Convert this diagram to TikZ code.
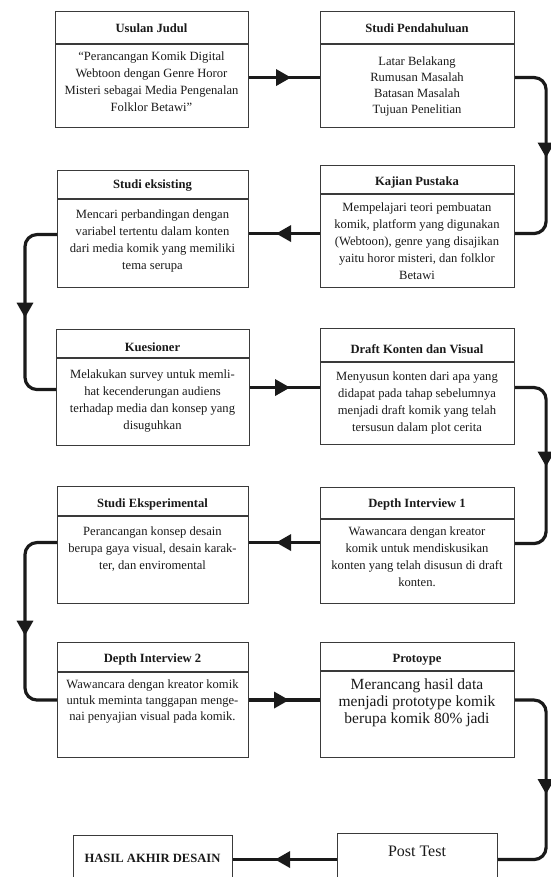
\documentclass[tikz,border=0pt]{standalone}
\usepackage{fontspec}
\setmainfont{Liberation Serif}
\usetikzlibrary{arrows.meta,decorations.markings}
\definecolor{ink}{HTML}{1A1A1A}
\definecolor{framecol}{HTML}{3A3A3A}
\tikzset{
  boxframe/.style={draw=framecol, line width=1.1pt, inner sep=0pt, anchor=north west, fill=white},
  divline/.style={draw=framecol, line width=1.1pt},
  headtxt/.style={font=\fontsize{12.6}{15}\selectfont\bfseries, text=ink, anchor=base, inner sep=0pt},
  bodytxt/.style={font=\fontsize{12.6}{17}\selectfont, text=ink, align=center, anchor=north, inner sep=0pt},
  conn/.style={draw=ink, line width=3.2pt, rounded corners=12pt},
  tipat/.style={postaction={decorate}, decoration={markings, mark=at position #1 with {\arrow{Triangle[length=15pt,width=16pt]}}}},
}
\begin{document}
\begin{tikzpicture}[x=1pt,y=-1pt]
\useasboundingbox (0,0) rectangle (550,877);

% Usulan Judul
\node[boxframe, minimum width=193pt, minimum height=116pt] (usulan) at (55,11) {};
\draw[divline] (55,44) -- (248,44);
\node[headtxt] (usulanH) at (151.5,33) {Usulan Judul};
\node[bodytxt] (usulanB) at (151.5,51.5) {“Perancangan Komik Digital\\Webtoon dengan Genre Horor\\Misteri sebagai Media Pengenalan\\Folklor Betawi”};

% Studi Pendahuluan
\node[boxframe, minimum width=194pt, minimum height=116pt] (sp) at (320,11) {};
\draw[divline] (320,44) -- (514,44);
\node[headtxt] (spH) at (417,33) {Studi Pendahuluan};
\node[bodytxt, font=\fontsize{12.6}{16}\selectfont] (spB) at (417,56.5) {Latar Belakang\\Rumusan Masalah\\Batasan Masalah\\Tujuan Penelitian};

% Kajian Pustaka
\node[boxframe, minimum width=194pt, minimum height=122pt] (kajian) at (320,165) {};
\draw[divline] (320,194) -- (514,194);
\node[headtxt] (kajianH) at (417,186) {Kajian Pustaka};
\node[bodytxt] (kajianB) at (417,202.5) {Mempelajari teori pembuatan\\komik, platform yang digunakan\\(Webtoon), genre yang disajikan\\yaitu horor misteri, dan folklor\\Betawi};

% Studi eksisting
\node[boxframe, minimum width=191pt, minimum height=117pt] (se) at (57,170) {};
\draw[divline] (57,199) -- (248,199);
\node[headtxt] (seH) at (152.5,189) {Studi eksisting};
\node[bodytxt] (seB) at (152.5,209.5) {Mencari perbandingan dengan\\variabel tertentu dalam konten\\dari media komik yang memiliki\\tema serupa};

% Kuesioner
\node[boxframe, minimum width=193pt, minimum height=116pt] (kues) at (56,329) {};
\draw[divline] (56,358) -- (249,358);
\node[headtxt] (kuesH) at (152.5,351) {Kuesioner};
\node[bodytxt] (kuesB) at (152.5,369.5) {Melakukan survey untuk memli-\\hat kecenderungan audiens\\terhadap media dan konsep yang\\disuguhkan};

% Draft Konten dan Visual
\node[boxframe, minimum width=194pt, minimum height=116pt] (draft) at (320,328) {};
\draw[divline] (320,362) -- (514,362);
\node[headtxt] (draftH) at (417,353) {Draft Konten dan Visual};
\node[bodytxt] (draftB) at (417,371.5) {Menyusun konten dari apa yang\\didapat pada tahap sebelumnya\\menjadi draft komik yang telah\\tersusun dalam plot cerita};

% Studi Eksperimental
\node[boxframe, minimum width=191pt, minimum height=117pt] (seexp) at (57,486) {};
\draw[divline] (57,516) -- (248,516);
\node[headtxt] (seexpH) at (152.5,507) {Studi Eksperimental};
\node[bodytxt] (seexpB) at (152.5,526.5) {Perancangan konsep desain\\berupa gaya visual, desain karak-\\ter, dan enviromental};

% Depth Interview 1
\node[boxframe, minimum width=194pt, minimum height=116pt] (di1) at (320,487) {};
\draw[divline] (320,519) -- (514,519);
\node[headtxt] (di1H) at (417,507) {Depth Interview 1};
\node[bodytxt] (di1B) at (417,526.5) {Wawancara dengan kreator\\komik untuk mendiskusikan\\konten yang telah disusun di draft\\konten.};

% Depth Interview 2
\node[boxframe, minimum width=191pt, minimum height=115pt] (di2) at (57,642) {};
\draw[divline] (57,672) -- (248,672);
\node[headtxt] (di2H) at (152.5,662) {Depth Interview 2};
\node[bodytxt, font=\fontsize{12.6}{16}\selectfont] (di2B) at (152.5,679.5) {Wawancara dengan kreator komik\\untuk meminta tanggapan menge-\\nai penyajian visual pada komik.};

% Protoype
\node[boxframe, minimum width=194pt, minimum height=115pt] (proto) at (320,642) {};
\draw[divline] (320,671) -- (514,671);
\node[headtxt] (protoH) at (417,662) {Protoype};
\node[bodytxt, font=\fontsize{15.5}{17}\selectfont] (protoB) at (417,679) {Merancang hasil data\\menjadi prototype komik\\berupa komik 80\% jadi};

% Post Test
\node[boxframe, minimum width=160pt, minimum height=52pt] (post) at (337,833) {};
\node[headtxt, font=\fontsize{16}{18}\selectfont] (postT) at (417,856) {Post Test};

% Hasil Akhir Desain
\node[boxframe, minimum width=159pt, minimum height=52pt] (hasil) at (73,835) {};
\node[headtxt] (hasilT) at (152.5,862.5) {HASIL AKHIR DESAIN};

% connectors
\draw[conn, tipat=42pt] ([yshift=-8pt]usulan.east) -- ([yshift=-8pt]sp.west);
\draw[conn, tipat=106pt] ([yshift=-8pt]sp.east) -- ++(31,0) |- ([yshift=-7pt]kajian.east);
\draw[conn, tipat=44pt] ([yshift=-7pt]kajian.west) -- ([yshift=-4.5pt]se.east);
\draw[conn, tipat=110pt] ([yshift=-5.5pt]se.west) -- ++(-32,0) |- ([yshift=-2pt]kues.west);
\draw[conn, tipat=40pt] (kues.east) -- ([yshift=-1pt]draft.west);
\draw[conn, tipat=105pt] ([yshift=-1pt]draft.east) -- ++(31,0) |- ([yshift=2pt]di1.east);
\draw[conn, tipat=44pt] ([yshift=3pt]di1.west) -- ([yshift=2.5pt]seexp.east);
\draw[conn, tipat=120pt] ([yshift=2.5pt]seexp.west) -- ++(-32,0) |- (di2.west);
\draw[conn, tipat=40pt] (di2.east) -- (proto.west);
\draw[conn, tipat=120pt] (proto.east) -- ++(31,0) |- (post.east);
\draw[conn, tipat=62pt] (post.west) -- (post.west -| hasil.east);
\end{tikzpicture}
\end{document}
